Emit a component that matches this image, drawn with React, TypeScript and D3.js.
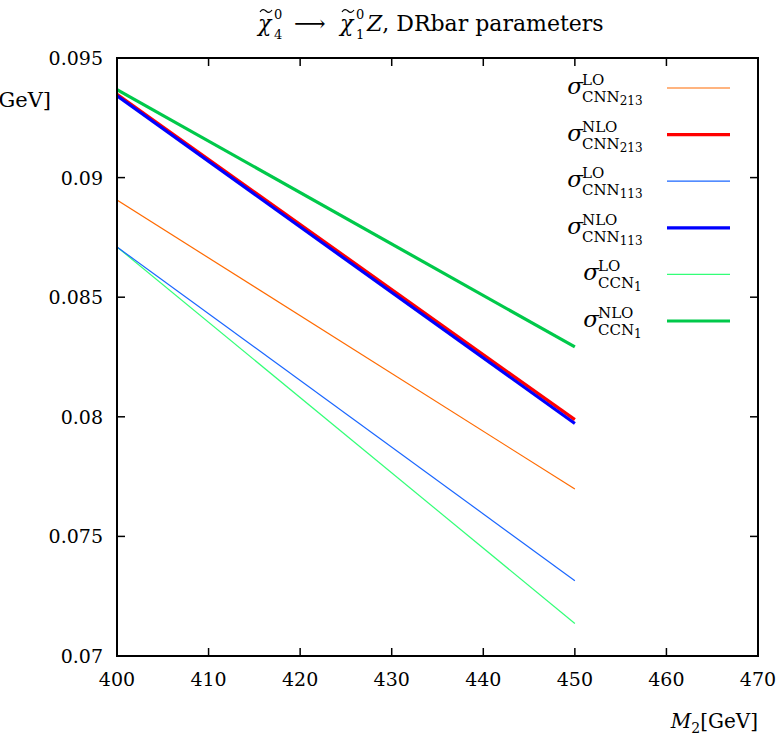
import React from "react";
import * as d3 from "d3";

const xTicks = [400, 410, 420, 430, 440, 450, 460, 470];
const yTicks = [0.07, 0.075, 0.08, 0.085, 0.09, 0.095];
const yTickLabels = ["0.07", "0.075", "0.08", "0.085", "0.09", "0.095"];

const m2 = [400, 450];
const loCNN213 = [0.08906, 0.07698];
const nloCNN213 = [0.09348, 0.07988];
const loCNN113 = [0.0871, 0.07315];
const nloCNN113 = [0.09342, 0.07972];
const loCCN1 = [0.0871, 0.07136];
const nloCCN1 = [0.09368, 0.08292];

const seriesNames = [
  { sup: "LO", sub: "CNN", idx: "213" },
  { sup: "NLO", sub: "CNN", idx: "213" },
  { sup: "LO", sub: "CNN", idx: "113" },
  { sup: "NLO", sub: "CNN", idx: "113" },
  { sup: "LO", sub: "CCN", idx: "1" },
  { sup: "NLO", sub: "CCN", idx: "1" },
];
const seriesValues = [loCNN213, nloCNN213, loCNN113, nloCNN113, loCCN1, nloCCN1];
const seriesColors = ["#ff6a00", "#ff0000", "#1a66ff", "#0000ff", "#33ff77", "#00c94a"];
const seriesWidths = [1.2, 3.2, 1.2, 3.2, 1.2, 3.2];

const FONT = "DejaVu Serif, Liberation Serif, serif";

function Tilde({ x, y }: { x: number; y: number }) {
  return (
    <path d={`M${x},${y + 2} C${x + 2},${y - 1} ${x + 4},${y - 1} ${x + 6},${y + 1} S${x + 10},${y + 3} ${x + 12},${y}`}
      fill="none" stroke="#000" strokeWidth={1.2} />
  );
}

export default function App() {
  const W = 783, H = 739;
  const left = 117, right = 758, top = 58, bottom = 656;
  const x = d3.scaleLinear().domain([400, 470]).range([left, right]);
  const y = d3.scaleLinear().domain([0.07, 0.095]).range([bottom, top]);
  const line = d3.line<[number, number]>().x(d => x(d[0])).y(d => y(d[1]));
  const tick = 8;
  const drawOrder = [4, 2, 0, 5, 1, 3];
  const fs = 19;

  return (
    <svg width={W} height={H} style={{ position: "absolute", left: 0, top: 0, background: "#fff", fontFamily: FONT }}>
      <defs>
        <clipPath id="plotclip">
          <rect x={left} y={top} width={right - left} height={bottom - top} />
        </clipPath>
      </defs>
      {/* title */}
      <g fontSize={22}>
        <text x={258} y={31} fontStyle="italic">χ</text>
        <Tilde x={260} y={10} />
        <text x={274} y={19} fontSize={13}>0</text>
        <text x={274} y={39} fontSize={13}>4</text>
        <text x={294} y={31}>⟶</text>
        <text x={340} y={31} fontStyle="italic">χ</text>
        <Tilde x={342} y={10} />
        <text x={356} y={19} fontSize={13}>0</text>
        <text x={356} y={39} fontSize={13}>1</text>
        <text x={367} y={31}><tspan fontStyle="italic">Z</tspan>, DRbar parameters</text>
      </g>

      {/* series */}
      <g clipPath="url(#plotclip)">
        {drawOrder.map(i => (
          <path key={i}
            d={line(m2.map((v, k) => [v, seriesValues[i][k]] as [number, number])) || ""}
            fill="none" stroke={seriesColors[i]} strokeWidth={seriesWidths[i]} />
        ))}
      </g>

      {/* ticks */}
      {xTicks.map(t => (
        <g key={"x" + t}>
          <line x1={x(t)} x2={x(t)} y1={bottom} y2={bottom - tick} stroke="#000" strokeWidth={1.5} />
          <line x1={x(t)} x2={x(t)} y1={top} y2={top + tick} stroke="#000" strokeWidth={1.5} />
          <text x={x(t)} y={bottom + 30} fontSize={fs} textAnchor="middle">{t}</text>
        </g>
      ))}
      {yTicks.map((t, i) => (
        <g key={"y" + t}>
          <line x1={left} x2={left + tick} y1={y(t)} y2={y(t)} stroke="#000" strokeWidth={1.5} />
          <line x1={right} x2={right - tick} y1={y(t)} y2={y(t)} stroke="#000" strokeWidth={1.5} />
          <text x={left - 14} y={y(t) + 7} fontSize={fs} textAnchor="end">{yTickLabels[i]}</text>
        </g>
      ))}

      {/* frame */}
      <rect x={left} y={top} width={right - left} height={bottom - top} fill="none" stroke="#000" strokeWidth={2} />

      {/* axis labels */}
      <text x={51} y={107} fontSize={21} textAnchor="end">
        <tspan fontStyle="italic">Γ</tspan>[GeV]
      </text>
      <text x={758} y={728} fontSize={20} textAnchor="end">
        <tspan fontStyle="italic">M</tspan>
        <tspan fontSize={14} dy={5}>2</tspan>
        <tspan dy={-5}>[GeV]</tspan>
      </text>

      {/* legend */}
      {seriesNames.map((s, i) => {
        const ly = 88 + i * 46.6;
        const subStart = s.idx.length > 1 ? 583 : 599;
        return (
          <g key={"lg" + i}>
            <line x1={667} x2={730} y1={ly} y2={ly} stroke={seriesColors[i]} strokeWidth={seriesWidths[i]} />
            <text x={subStart} y={ly + 6} fontSize={23} textAnchor="end" fontStyle="italic">σ</text>
            <text x={subStart - 1} y={ly - 3} fontSize={15}>{s.sup}</text>
            <text x={subStart - 1} y={ly + 14} fontSize={15}>
              <tspan>{s.sub}</tspan>
              <tspan fontSize={12} dy={3}>{s.idx}</tspan>
            </text>
          </g>
        );
      })}
    </svg>
  );
}
